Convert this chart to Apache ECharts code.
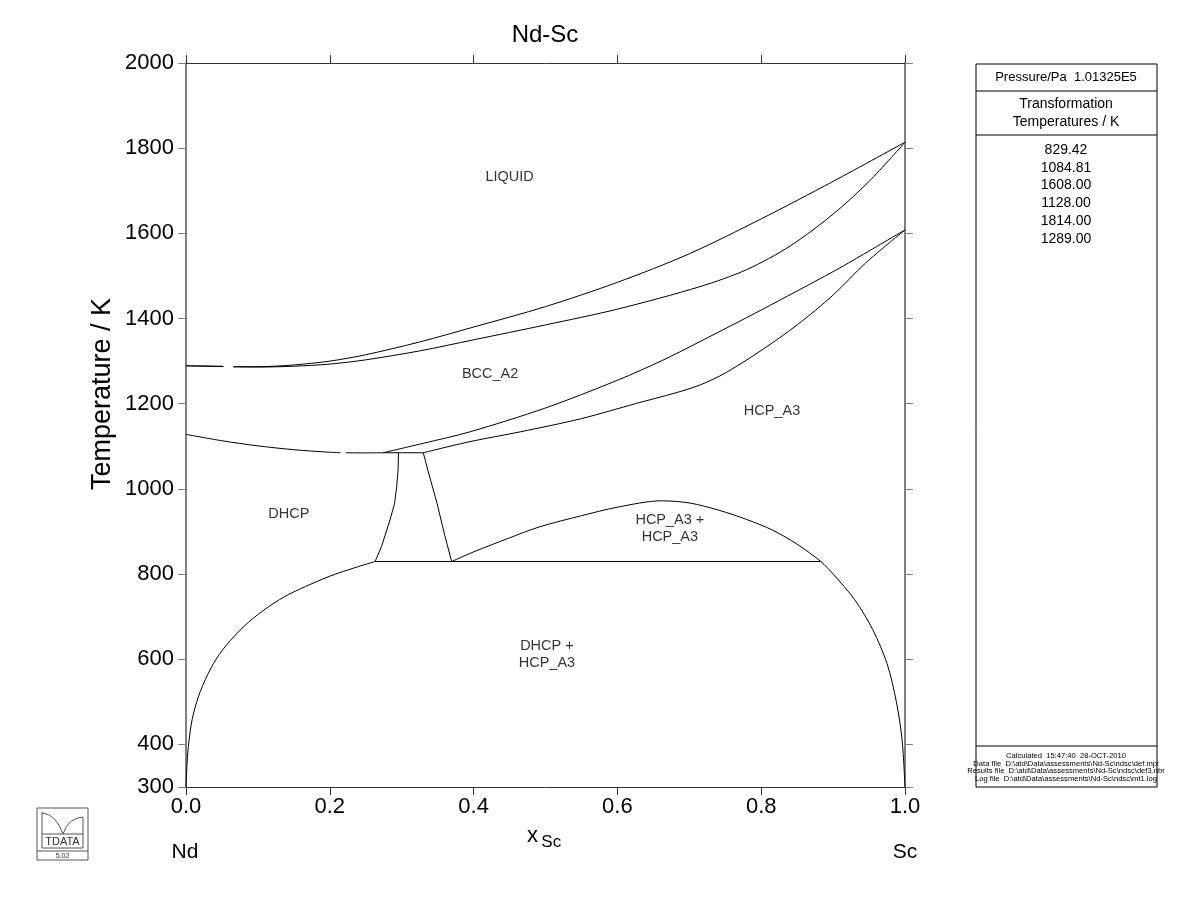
<!DOCTYPE html>
<html><head><meta charset="utf-8">
<script src="https://cdn.jsdelivr.net/npm/echarts@6/dist/echarts.min.js"></script>
<style>html,body{margin:0;padding:0;background:#fff}#c{width:1200px;height:923px}</style>
</head><body><div id="c"></div>
<script>
// ---- tick labels ----
const yTicks = [300,400,600,800,1000,1200,1400,1600,1800,2000];
const xTicks = [0,0.2,0.4,0.6,0.8,1.0];

// ---- phase boundaries (x_Sc, T/K); null = gap in the drawn line ----
const liquidUpper = [[0,1289],[0.052,1288],null,[0.066,1287],[0.1,1287],[0.15,1291],[0.2,1300],[0.25,1315],[0.325,1345],[0.4,1380],[0.5,1428],[0.6,1485],[0.7,1552],[0.8,1634],[0.9,1722],[1,1814]];
const liquidLower = [[0,1289],[0.052,1287],null,[0.066,1286.5],[0.1,1286],[0.15,1288],[0.2,1293],[0.25,1303],[0.325,1324],[0.4,1350],[0.5,1385],[0.6,1422],[0.715,1475],[0.78,1515],[0.84,1570],[0.9,1645],[0.95,1722],[1,1814]];
const bccDhcp = [[0,1128],[0.05,1113],[0.1,1101],[0.15,1092],[0.2,1086],[0.215,1085],null,[0.222,1084.8],[0.25,1084.5],[0.274,1084.81]];
const bccHcp = [[0.274,1084.81],[0.33,1107],[0.395,1134],[0.5,1190],[0.6,1255],[0.663,1302],[0.715,1346],[0.8,1420],[0.9,1510],[0.928,1537],[1,1608]];
const hcpBcc = [[0.33,1084.81],[0.395,1111],[0.465,1134],[0.55,1165],[0.627,1201],[0.68,1225],[0.715,1244],[0.75,1272],[0.8,1325],[0.85,1385],[0.9,1455],[0.945,1530],[1,1608]];
const tieUpper = [[0.274,1084.81],[0.33,1084.81]];
const dhcpBound = [[0.263,829.42],[0.272,865],[0.2837,927],[0.29,965],[0.293,1005],[0.295,1045],[0.2955,1084.81]];
const hcpBound = [[0.33,1084.81],[0.337,1040],[0.349,967],[0.36,890],[0.3695,829.42]];
const tieLower = [[0.263,829.42],[0.883,829.42]];
const dhcpSolvus = [[0,300],[0.002,370],[0.005,420],[0.01,470],[0.02,525],[0.035,580],[0.05,620],[0.075,668],[0.1,705],[0.13,740],[0.156,763],[0.2,795],[0.235,815],[0.263,829.42]];
const hcpDome = [[0.3695,829.42],[0.4,852],[0.45,885],[0.492,911],[0.55,937],[0.6,957],[0.661,972],[0.7,967],[0.741,950],[0.78,928],[0.816,903],[0.85,870],[0.883,829.42],[0.9,800],[0.93,740],[0.955,670],[0.975,590],[0.988,500],[0.996,410],[1,300]];

// ---- region labels (x, T, text) ----
const regionLabels = [
  [0.45,1732,'LIQUID'],
  [0.423,1270,'BCC_A2'],
  [0.815,1183,'HCP_A3'],
  [0.143,941,'DHCP'],
  [0.673,906,'HCP_A3 +\nHCP_A3'],
  [0.502,612,'DHCP +\nHCP_A3']
];

// ---- side table ----
const pressureText = 'Pressure/Pa  1.01325E5';
const tableTitle = ['Transformation','Temperatures / K'];
const transTemps = ['829.42','1084.81','1608.00','1128.00','1814.00','1289.00'];
const footerLines = [
  'Calculated  15:47:40  28-OCT-2010',
  'Data file  D:\\atd\\Data\\assessments\\Nd-Sc\\ndsc\\def.mpi',
  'Results file  D:\\atd\\Data\\assessments\\Nd-Sc\\ndsc\\def3.nbr',
  'Log file  D:\\atd\\Data\\assessments\\Nd-Sc\\ndsc\\mt1.log'
];

const FONT = '"Liberation Sans", Arial, sans-serif';
const toData = arr => arr.map(p => p ? p : ['-','-']);
const mkLine = (arr, smooth) => ({
  type:'line', data: toData(arr), showSymbol:false, symbol:'none', smooth: smooth ? 0.3 : false,
  connectNulls:false, lineStyle:{color:'#000', width:1}, silent:true, animation:false, z:3
});

const series = [
  mkLine(liquidUpper,true), mkLine(liquidLower,true), mkLine(bccDhcp,true),
  mkLine(bccHcp,true), mkLine(hcpBcc,true), mkLine(tieUpper,false),
  mkLine(dhcpBound,false), mkLine(hcpBound,false), mkLine(tieLower,false),
  mkLine(dhcpSolvus,true), mkLine(hcpDome,true),
  {
    type:'scatter', symbolSize:0, silent:true, animation:false,
    data: regionLabels.map(l => ({value:[l[0],l[1]], label:{formatter:l[2]}})),
    label:{show:true, position:'inside', color:'#000', fontSize:14.5, fontFamily:FONT, lineHeight:17, align:'center'}
  }
];

const axisCommonX = {
  type:'value', min:0, max:1, interval:0.2,
  axisLine:{show:true, onZero:false, lineStyle:{color:'#333', width:1}},
  axisTick:{show:true, inside:false, length:8, lineStyle:{color:'#333'}},
  splitLine:{show:false}
};
const axisCommonY = {
  type:'value', min:300, max:2000,
  axisLine:{show:true, onZero:false, lineStyle:{color:'#808080', width:2}},
  axisTick:{show:true, inside:false, length:8, customValues:yTicks, lineStyle:{color:'#808080'}},
  splitLine:{show:false}
};

const graphic = [];
// title and axis names
graphic.push({type:'text', x:545, y:35, style:{text:'Nd-Sc', font:'24px '+FONT, fill:'#000', textAlign:'center', textVerticalAlign:'middle'}});
graphic.push({type:'text', x:103, y:394, rotation:Math.PI/2, style:{text:'Temperature / K', font:'27px '+FONT, fill:'#000', textAlign:'center', textVerticalAlign:'middle'}});
graphic.push({type:'text', x:527, y:836, style:{text:'{a|x} {b|Sc}', rich:{a:{font:'22px '+FONT, fill:'#000'}, b:{font:'17px '+FONT, fill:'#000', padding:[12,0,0,0]}}, textVerticalAlign:'middle'}});
graphic.push({type:'text', x:185, y:852, style:{text:'Nd', font:'21px '+FONT, fill:'#000', textAlign:'center', textVerticalAlign:'middle'}});
graphic.push({type:'text', x:905, y:852, style:{text:'Sc', font:'21px '+FONT, fill:'#000', textAlign:'center', textVerticalAlign:'middle'}});

// side table
const bx=976, by=64, bw=181, bh=723;
graphic.push({type:'rect', shape:{x:bx, y:by, width:bw, height:bh}, style:{fill:'none', stroke:'#000', lineWidth:1}});
graphic.push({type:'line', shape:{x1:bx, y1:91, x2:bx+bw, y2:91}, style:{stroke:'#000', lineWidth:1}});
graphic.push({type:'line', shape:{x1:bx, y1:135, x2:bx+bw, y2:135}, style:{stroke:'#000', lineWidth:1}});
graphic.push({type:'line', shape:{x1:bx, y1:746, x2:bx+bw, y2:746}, style:{stroke:'#000', lineWidth:1}});
graphic.push({type:'text', x:1066, y:77, style:{text:pressureText, font:'13px '+FONT, fill:'#000', textAlign:'center', textVerticalAlign:'middle'}});
tableTitle.forEach((t,i)=>graphic.push({type:'text', x:1066, y:104+i*18, style:{text:t, font:'14px '+FONT, fill:'#000', textAlign:'center', textVerticalAlign:'middle'}}));
transTemps.forEach((t,i)=>graphic.push({type:'text', x:1066, y:150+i*17.8, style:{text:t, font:'14px '+FONT, fill:'#000', textAlign:'center', textVerticalAlign:'middle'}}));
footerLines.forEach((t,i)=>graphic.push({type:'text', x:1066, y:756+i*7.6, style:{text:t, font:'7.6px '+FONT, fill:'#000', textAlign:'center', textVerticalAlign:'middle'}}));

// logo
graphic.push({type:'rect', shape:{x:37, y:808, width:51, height:52}, style:{fill:'none', stroke:'#555', lineWidth:1}});
graphic.push({type:'line', shape:{x1:37, y1:851, x2:88, y2:851}, style:{stroke:'#555', lineWidth:1}});
graphic.push({type:'line', shape:{x1:42, y1:834, x2:83, y2:834}, style:{stroke:'#555', lineWidth:1}});
graphic.push({type:'line', shape:{x1:42, y1:848, x2:83, y2:848}, style:{stroke:'#555', lineWidth:1}});
graphic.push({type:'line', shape:{x1:42, y1:812, x2:42, y2:848}, style:{stroke:'#555', lineWidth:1}});
graphic.push({type:'line', shape:{x1:83, y1:817, x2:83, y2:848}, style:{stroke:'#555', lineWidth:1}});
graphic.push({type:'bezierCurve', shape:{x1:42, y1:813, cpx1:56, cpy1:814, x2:63, y2:834}, style:{fill:'none', stroke:'#555', lineWidth:1}});
graphic.push({type:'bezierCurve', shape:{x1:63, y1:834, cpx1:68, cpy1:818, x2:83, y2:817}, style:{fill:'none', stroke:'#555', lineWidth:1}});
graphic.push({type:'text', x:62.5, y:841.5, style:{text:'TDATA', font:'11px '+FONT, fill:'#333', textAlign:'center', textVerticalAlign:'middle'}});
graphic.push({type:'text', x:62.5, y:856, style:{text:'5.02', font:'7px '+FONT, fill:'#333', textAlign:'center', textVerticalAlign:'middle'}});

const option = {
  backgroundColor:'#fff',
  animation:false,
  textStyle:{fontFamily:FONT},
  grid:{left:186, right:295, top:63, bottom:136, containLabel:false, outerBoundsMode:'none'},
  xAxis:[
    Object.assign({}, axisCommonX, {position:'bottom', axisLabel:{show:true, fontSize:22, color:'#000', margin:9, fontFamily:FONT, formatter:v=>v.toFixed(1)}}),
    Object.assign({}, axisCommonX, {position:'top', axisLabel:{show:false}})
  ],
  yAxis:[
    Object.assign({}, axisCommonY, {position:'left', axisLabel:{show:true, customValues:yTicks, fontSize:22, color:'#000', margin:12, fontFamily:FONT, formatter:v=>String(v)}}),
    Object.assign({}, axisCommonY, {position:'right', axisLabel:{show:false}})
  ],
  series: series,
  graphic: graphic
};
const chart = echarts.init(document.getElementById('c'));
chart.setOption(option);
</script></body></html>
